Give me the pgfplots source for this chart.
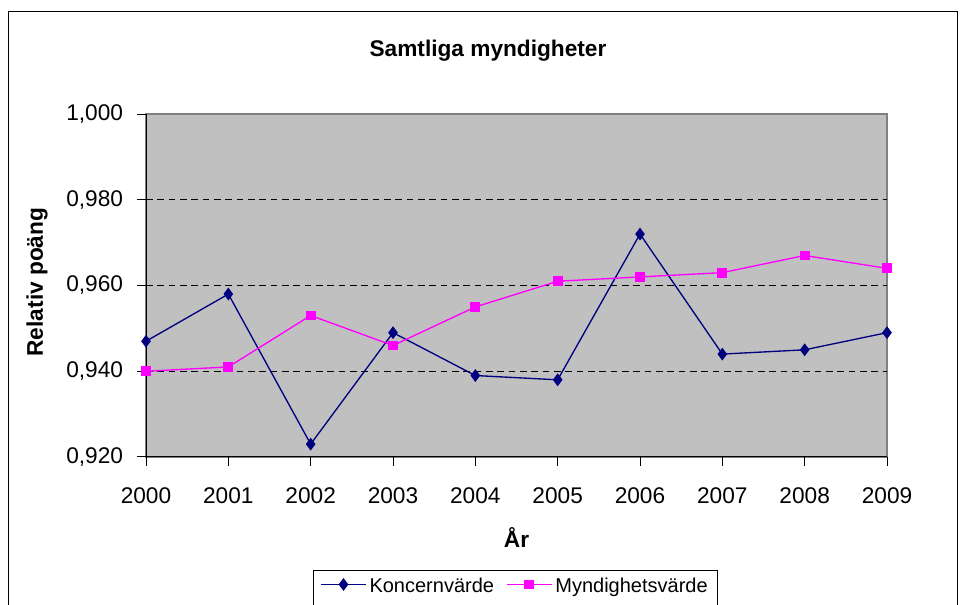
\documentclass[border=0pt]{standalone}
\usepackage{fontspec}
\setmainfont{Liberation Sans}
\usepackage{pgfplots}
\pgfplotsset{compat=1.18}
\definecolor{navyc}{HTML}{000080}
\definecolor{magc}{HTML}{FF00FF}
\definecolor{silverc}{HTML}{C0C0C0}
\definecolor{grayc}{HTML}{808080}
\begin{document}
\begin{tikzpicture}
\useasboundingbox (0,0) rectangle (720pt,453.75pt);
\fill[white] (0,0) rectangle (720pt,453.75pt);
\draw[black, line width=0.75pt] (6pt,-20pt) rectangle (717.75pt,444.75pt);
\node[font=\bfseries\fontsize{17}{20}\selectfont, anchor=base] at (366pt,411pt) {Samtliga myndigheter};
\begin{axis}[
  at={(109.5pt,111pt)}, anchor=south west,
  scale only axis, width=555.75pt, height=257.25pt,
  xmin=2000, xmax=2009, ymin=0.92, ymax=1.0,
  xtick={2000,2001,2002,2003,2004,2005,2006,2007,2008,2009},
  ytick={0.92,0.94,0.96,0.98,1.0},
  extra y ticks={0.94,0.96,0.98}, extra y tick labels={},
  extra y tick style={grid=major, major tick length=0pt},
  grid style={black, dash pattern=on 5pt off 3.5pt, line width=0.6pt},
  axis background/.style={fill=silverc, draw=grayc, line width=0.9pt},
  axis x line*=bottom, axis y line*=left,
  axis line style={black, line width=0.75pt, -},
  tick align=outside, major tick length=6.75pt,
  tick style={black, line width=0.75pt},
  ticklabel style={font=\fontsize{17}{20}\selectfont},
  /pgf/number format/assume math mode=true,
  xticklabel style={/pgf/number format/1000 sep={}, yshift=-13pt},
  yticklabel style={xshift=-7pt, /pgf/number format/.cd, fixed, fixed zerofill, precision=3, use comma},
  xlabel={År}, ylabel={Relativ poäng},
  label style={font=\bfseries\fontsize{17}{20}\selectfont},
  xlabel style={at={(axis description cs:0.5,-0.265)}, anchor=base},
  ylabel style={at={(axis description cs:-0.147,0.51)}, anchor=center},
  legend columns=2,
  legend style={at={(axis description cs:0.2254,-0.3294)}, anchor=north west,
    draw=black, line width=0.75pt, inner xsep=5pt, inner ysep=5.5pt,
    font=\fontsize{15}{18}\selectfont,
    nodes={text height=11pt, text depth=25pt, inner xsep=2pt, inner ysep=0pt},
    /tikz/every even column/.append style={column sep=7pt}},
  legend image code/.code={\draw[#1, mark repeat=2, mark phase=2] plot coordinates {(0pt,13pt) (17pt,13pt) (34pt,13pt)};},
]
\addplot[navyc, line width=1pt, mark=diamond*, mark size=4pt, mark options={solid, fill=navyc}]
  coordinates {(2000,0.947) (2001,0.958) (2002,0.923) (2003,0.949) (2004,0.939) (2005,0.938) (2006,0.972) (2007,0.944) (2008,0.945) (2009,0.949)};
\addlegendentry{Koncernvärde}
\addplot[magc, line width=1pt, mark=square*, mark size=3.2pt, mark options={solid, fill=magc}]
  coordinates {(2000,0.940) (2001,0.941) (2002,0.953) (2003,0.946) (2004,0.955) (2005,0.961) (2006,0.962) (2007,0.963) (2008,0.967) (2009,0.964)};
\addlegendentry{Myndighetsvärde}
\end{axis}
\end{tikzpicture}
\end{document}
